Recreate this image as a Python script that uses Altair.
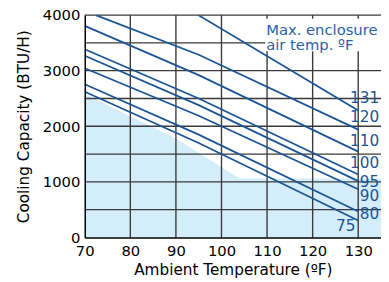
import altair as alt
import pandas as pd

# ---- data ----
series_names = ["131", "120", "110", "100", "95", "90", "80", "75"]
series_x = [
    [94.9, 130],
    [72.4, 95, 130],
    [70, 95, 130],
    [70, 95, 130],
    [70, 95, 130],
    [70, 95, 130],
    [70, 95, 130],
    [70, 95, 130],
]
series_y = [
    [4000, 2283],
    [4000, 3286, 1940],
    [3805, 2920, 1545],
    [3386, 2500, 1133],
    [3269, 2380, 1014],
    [3044, 2190, 867],
    [2756, 1850, 466],
    [2620, 1700, 306],
]
label_x = [134.6, 134.6, 134.6, 134.6, 134.6, 134.6, 134.6, 129.4]
label_y = [2513, 2159, 1735, 1345, 991, 743, 425, 212]

shade_x = [70, 90, 104, 135]
shade_y = [2580, 1780, 1060, 1060]

x_ticks = [70, 80, 90, 100, 110, 120, 130]
y_ticks = [0, 500, 1000, 1500, 2000, 2500, 3000, 3500, 4000]

note_lines = ["Max. enclosure", "air temp. ºF"]
note_y = [3732, 3467]
note_x = [109.8, 109.8]
box_x = [109.6]
box_x2 = [135]
box_y = [3350]
box_y2 = [3935]

# ---- tables ----
rows = []
for n, xs, ys in zip(series_names, series_x, series_y):
    for xv, yv in zip(xs, ys):
        rows.append({"series": n, "temp": xv, "cap": yv})
lines_df = pd.DataFrame(rows)
labels_df = pd.DataFrame({"series": series_names, "temp": label_x, "cap": label_y})
shade_df = pd.DataFrame({"temp": shade_x, "cap": shade_y})
vgrid_df = pd.DataFrame({"temp": x_ticks[1:]})
hgrid_df = pd.DataFrame({"cap": y_ticks[1:]})
note_df = pd.DataFrame({"text": note_lines, "temp": note_x, "cap": note_y})
box_df = pd.DataFrame({"x": box_x, "x2": box_x2, "y": box_y, "y2": box_y2})

FONT = "DejaVu Sans"
BLUE = "#1b5597"
xscale = alt.Scale(domain=[70, 135], nice=False, zero=False)
yscale = alt.Scale(domain=[0, 4000], nice=False)

xaxis = alt.Axis(values=x_ticks, grid=False, ticks=False, labelPadding=6,
                 format="d",
                 labelFontSize=15, labelFont=FONT, labelColor="black",
                 labelFlush=False, labelOverlap=False,
                 domainColor="black", domainWidth=1.5, zindex=1,
                 title="Ambient Temperature (ºF)", titleFont=FONT,
                 titleFontSize=15.5, titleFontWeight="normal",
                 titleColor="black", titlePadding=5)
yaxis = alt.Axis(values=y_ticks, grid=False, ticks=False, labelPadding=5,
                 format="d",
                 labelFontSize=15, labelFont=FONT, labelColor="black",
                 labelFlush=False, labelOverlap=False,
                 domainColor="black", domainWidth=1.5, zindex=1,
                 title="Cooling Capacity (BTU/H)", titleFont=FONT,
                 titleFontSize=15.5, titleFontWeight="normal",
                 titleColor="black", titlePadding=11)

shade = alt.Chart(shade_df).mark_area(color="#d4edfa", opacity=1).encode(
    x=alt.X("temp:Q", scale=xscale, axis=xaxis),
    y=alt.Y("cap:Q", scale=yscale, axis=yaxis),
)
vgrid = alt.Chart(vgrid_df).mark_rule(color="#3a3a3a", strokeWidth=1.4).encode(
    x=alt.X("temp:Q", scale=xscale)
)
hgrid = alt.Chart(hgrid_df).mark_rule(color="#3a3a3a", strokeWidth=1.4).encode(
    y=alt.Y("cap:Q", scale=yscale)
)
box = alt.Chart(box_df).mark_rect(color="white").encode(
    x=alt.X("x:Q", scale=xscale), x2="x2:Q",
    y=alt.Y("y:Q", scale=yscale), y2="y2:Q",
)
lines = alt.Chart(lines_df).mark_line(color=BLUE, strokeWidth=1.8, clip=True).encode(
    x=alt.X("temp:Q", scale=xscale),
    y=alt.Y("cap:Q", scale=yscale),
    detail="series:N",
)
labels = alt.Chart(labels_df).mark_text(
    color=BLUE, font=FONT, fontSize=15.5, align="right", baseline="middle"
).encode(
    x=alt.X("temp:Q", scale=xscale),
    y=alt.Y("cap:Q", scale=yscale),
    text="series:N",
)
note = alt.Chart(note_df).mark_text(
    color="#2a62a6", font=FONT, fontSize=15, align="left", baseline="middle"
).encode(
    x=alt.X("temp:Q", scale=xscale),
    y=alt.Y("cap:Q", scale=yscale),
    text="text:N",
)

chart = alt.layer(shade, vgrid, hgrid, box, lines, labels, note).properties(
    width=301, height=226,
    autosize=alt.AutoSizeParams(type="none"),
    padding={"left": 78, "top": 5, "right": 0, "bottom": 40},
    background="white",
).configure_view(stroke=None)

chart.save("out.html", embed_options={"renderer": "svg", "actions": False})
